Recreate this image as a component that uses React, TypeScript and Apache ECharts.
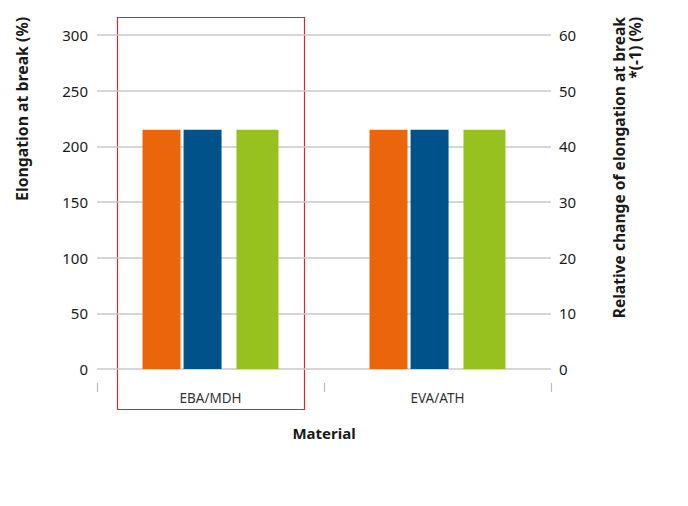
import React, { useEffect, useRef } from "react";
import * as echarts from "echarts";

const categories = ["EBA/MDH", "EVA/ATH"];
const seriesNames = ["Elongation at break (unaged)", "Elongation at break (aged)", "Relative change *(-1)"];
const orangeValues = [215, 215];
const blueValues = [215, 215];
const greenValues = [43, 43];
const leftTicks = { min: 0, max: 300, interval: 50 };
const rightTicks = { min: 0, max: 60, interval: 10 };

const FONT = "'Noto Sans', sans-serif";

export default function App() {
  const ref = useRef<HTMLDivElement>(null);
  useEffect(() => {
    if (!ref.current) return;
    const chart = echarts.init(ref.current, null, { renderer: "svg" });
    chart.setOption({
      animation: false,
      textStyle: { fontFamily: FONT },
      grid: { left: 97, right: 137, top: 35, bottom: 137, containLabel: false },
      xAxis: {
        type: "category",
        data: categories,
        offset: 14,
        axisLine: { show: false, onZero: false },
        axisTick: { show: true, length: 9, lineStyle: { color: "#bbbbbb", width: 1.2 } },
        axisLabel: { color: "#333", fontSize: 13.5, margin: 8, fontFamily: FONT },
        name: "Material",
        nameLocation: "middle",
        nameGap: 42,
        nameTextStyle: { color: "#1a1a1a", fontSize: 15, fontWeight: "bold", fontFamily: FONT },
      },
      yAxis: [
        {
          type: "value",
          ...leftTicks,
          axisLine: { show: false },
          axisTick: { show: false },
          axisLabel: { color: "#1a1a1a", fontSize: 15, margin: 9, fontFamily: FONT },
          splitLine: { lineStyle: { color: "#c8c8c8", width: 1.5 } },
        },
        {
          type: "value",
          ...rightTicks,
          axisLine: { show: false },
          axisTick: { show: false },
          axisLabel: { color: "#1a1a1a", fontSize: 15, margin: 8, fontFamily: FONT },
          splitLine: { show: false },
        },
      ],
      series: [
        { name: seriesNames[0], type: "bar", data: orangeValues, barWidth: 38, barGap: "8%", itemStyle: { color: "#EB650B" } },
        { name: seriesNames[1], type: "bar", data: blueValues, barWidth: 38, barGap: "8%", itemStyle: { color: "#00538A" } },
        { name: "spacer", type: "bar", data: [null, null], barWidth: 11, barGap: "8%", silent: true },
        { name: seriesNames[2], type: "bar", yAxisIndex: 1, data: greenValues, barWidth: 42, barGap: "8%", itemStyle: { color: "#96C11F" } },
      ],
      graphic: [
        {
          type: "rect",
          shape: { x: 117.5, y: 17.5, width: 187, height: 392 },
          style: { fill: "none", stroke: "#d9272e", lineWidth: 1.2 },
          silent: true,
        },
        {
          type: "text",
          x: 22,
          y: 17,
          rotation: Math.PI / 2,
          style: {
            text: "Elongation at break (%)",
            fill: "#1a1a1a",
            font: `bold 15.8px ${FONT}`,
            align: "right",
            verticalAlign: "middle",
          },
        },
        {
          type: "text",
          x: 611,
          y: 17,
          rotation: Math.PI / 2,
          style: {
            text: "Relative change of elongation at break\n*(-1) (%)",
            fill: "#1a1a1a",
            font: `bold 15.6px ${FONT}`,
            lineHeight: 16,
            align: "right",
            verticalAlign: "top",
          },
        },
      ],
    });
    return () => chart.dispose();
  }, []);
  return <div ref={ref} style={{ position: "absolute", left: 0, top: 0, width: 688, height: 506 }} />;
}
